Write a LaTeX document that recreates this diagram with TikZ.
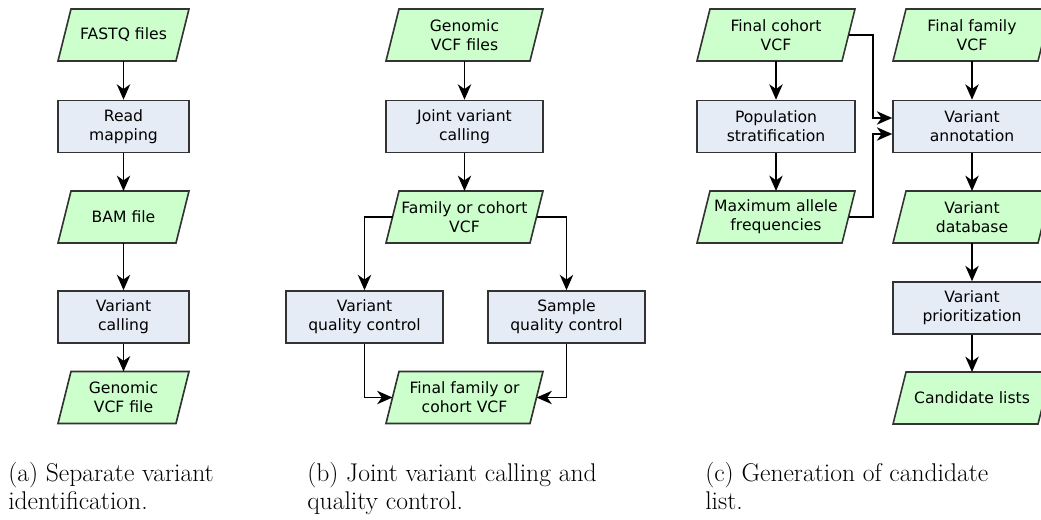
\documentclass[tikz,border=0pt]{standalone}
\usepackage{fontspec}
\newfontfamily\flowfont{DejaVu Sans}
\usetikzlibrary{arrows.meta,calc}
\pgfdeclarelayer{bg}
\pgfsetlayers{bg,main}
\definecolor{iogreen}{HTML}{CCFFCC}
\definecolor{procblue}{HTML}{E6ECF6}
\definecolor{edgegray}{HTML}{333333}

% parallelogram drawn round a (borderless) data node
\newcommand\iopoly[1]{%
  \draw[iofill] ($(#1.south west)+(-6.5,0)$) -- ($(#1.south east)+(-6.5,0)$)
    -- ($(#1.north east)+(6.5,0)$) -- ($(#1.north west)+(6.5,0)$) -- cycle;}

\begin{document}
\begin{tikzpicture}[x=0.75pt,y=-0.75pt,
  txt/.style={align=center, inner sep=2pt,
    font=\flowfont\fontsize{11.7}{14}\selectfont},
  proc/.style={txt, rectangle, draw=edgegray, fill=procblue,
    line width=1.2pt, minimum height=39pt},
  io/.style={txt, rectangle, outer sep=0pt, minimum height=39pt},
  iofill/.style={draw=edgegray, fill=iogreen, line width=1.2pt, line join=miter},
  procA/.style={proc, minimum width=98.25pt},
  ioA/.style={io, minimum width=88.5pt},
  procB/.style={proc, minimum width=117.75pt},
  ioB/.style={io, minimum width=108pt},
  procC/.style={proc, minimum width=118.5pt},
  ioC/.style={io, minimum width=108.75pt},
  arr/.style={-{Stealth[length=11.5pt,width=10pt,inset=3.5pt]},
    line width=1.25pt, black},
  subcap/.style={anchor=base west, inner sep=0pt,
    font=\fontsize{19.2}{23}\selectfont}]

\useasboundingbox (0,0) rectangle (1041,520);
\clip (0,0) rectangle (1041,520);

% (a) separate variant identification
\node[ioA]   (fastq)   at (123.5,35)    {FASTQ files};
\node[procA] (readmap) at (123.5,126.5) {Read\\mapping};
\node[ioA]   (bam)     at (123.5,217)   {BAM file};
\node[procA] (varcall) at (123.5,317)   {Variant\\calling};
\node[ioA]   (gvcf)    at (123.5,397.5) {Genomic\\VCF file};

% (b) joint variant calling and quality control
\node[ioB]   (gvcfs)    at (464.5,35)    {Genomic\\VCF files};
\node[procB] (joint)    at (464.5,126.5) {Joint variant\\calling};
\node[ioB]   (famvcf)   at (464.5,217)   {Family or cohort\\VCF};
\node[procB] (varqc)    at (364.5,317)   {Variant\\quality control};
\node[procB] (sampqc)   at (566.5,317)   {Sample\\quality control};
\node[ioB]   (finalvcf) at (464.5,397.5) {Final family or\\cohort VCF};

% (c) generation of candidate list
\node[ioC]   (cohort)   at (776,35)    {Final cohort\\VCF};
\node[procC] (popstrat) at (776,126.5) {Population\\stratification};
\node[ioC]   (maxaf)    at (776,217)   {Maximum allele\\frequencies};
\node[ioC]   (famfinal) at (972,35)    {Final family\\VCF};
\node[procC] (annot)    at (972,126.5) {Variant\\annotation};
\node[ioC]   (vdb)      at (972,217)   {Variant\\database};
\node[procC] (prio)     at (972,308)   {Variant\\prioritization};
\node[ioC]   (cands)    at (972,398)   {Candidate lists};

\begin{pgfonlayer}{bg}
  \foreach \n in {fastq,bam,gvcf,gvcfs,famvcf,finalvcf,cohort,maxaf,famfinal,vdb,cands}
    {\iopoly{\n}}
\end{pgfonlayer}

% connectors
\draw[arr] (fastq) -- (readmap);
\draw[arr] (readmap) -- (bam);
\draw[arr] (bam) -- (varcall);
\draw[arr] (varcall) -- (gvcf);

\draw[arr] (gvcfs) -- (joint);
\draw[arr] (joint) -- (famvcf);
\draw[arr] (famvcf.west) -| (varqc.north);
\draw[arr] (famvcf.east) -| (sampqc.north);
\draw[arr] (varqc.south) |- (finalvcf.west);
\draw[arr] (sampqc.south) |- (finalvcf.east);

\draw[arr] (cohort) -- (popstrat);
\draw[arr] (popstrat) -- (maxaf);
\draw[arr] (cohort.east) -| ($(annot.west)+(-19,-8.5)$) -- ($(annot.west)+(0,-8.5)$);
\draw[arr] (maxaf.east) -| ($(annot.west)+(-19,7.5)$) -- ($(annot.west)+(0,7.5)$);
\draw[arr] (famfinal) -- (annot);
\draw[arr] (annot) -- (vdb);
\draw[arr] (vdb) -- (prio);
\draw[arr] (prio) -- (cands);

% sub-captions
\node[subcap] (capa1) at (8,481)   {(a) Separate variant};
\node[subcap] (capa2) at (8,509)   {identification.};
\node[subcap] (capb1) at (307,481) {(b) Joint variant calling and};
\node[subcap] (capb2) at (307,509) {quality control.};
\node[subcap] (capc1) at (705,481) {(c) Generation of candidate};
\node[subcap] (capc2) at (705,509) {list.};
\end{tikzpicture}
\end{document}
